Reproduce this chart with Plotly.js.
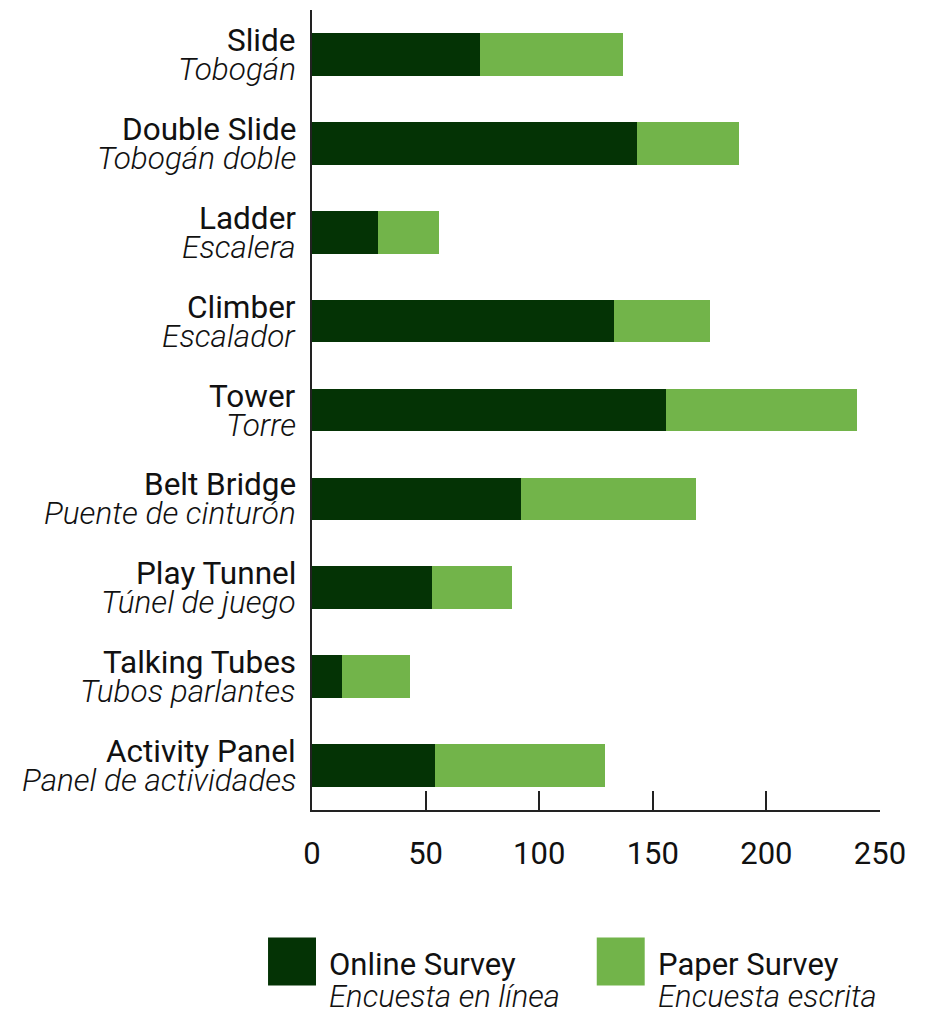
<!DOCTYPE html>
<html>
<head>
<meta charset="utf-8">
<script src="https://cdn.plot.ly/plotly-3.0.1.min.js"></script>
<style>
  html, body { margin: 0; padding: 0; background: #ffffff; }
  #chart { width: 926px; height: 1015px; }
</style>
</head>
<body>
<div id="chart"></div>
<script>
const categoriesEn = ["Slide", "Double Slide", "Ladder", "Climber", "Tower", "Belt Bridge", "Play Tunnel", "Talking Tubes", "Activity Panel"];
const categoriesEs = ["Tobogán", "Tobogán doble", "Escalera", "Escalador", "Torre", "Puente de cinturón", "Túnel de juego", "Tubos parlantes", "Panel de actividades"];
const onlineValues = [74, 143, 29, 133, 156, 92, 53, 13, 54];
const paperValues = [63, 45, 27, 42, 84, 77, 35, 30, 75];
const seriesNamesEn = ["Online Survey", "Paper Survey"];
const seriesNamesEs = ["Encuesta en línea", "Encuesta escrita"];
const xTickValues = [0, 50, 100, 150, 200, 250];

const darkGreen = "#043305";
const lightGreen = "#72b44a";
const textColor = "#111111";
const fontFamily = "Roboto, 'Noto Sans', 'DejaVu Sans', sans-serif";
const labelSize = 31.5;
const legendSize = 31;

const traces = [
  { type: "bar", orientation: "h", name: seriesNamesEn[0], y: categoriesEn, x: onlineValues,
    marker: { color: darkGreen, line: { width: 0 } }, showlegend: false },
  { type: "bar", orientation: "h", name: seriesNamesEn[1], y: categoriesEn, x: paperValues,
    marker: { color: lightGreen, line: { width: 0 } }, showlegend: false }
];

// plot area: left 312, right 880.5, top 10, bottom 810.5
const L = 312, R = 45.5, T = 10, B = 204.5;
const W = 926, H = 1015;
const pw = W - L - R, ph = H - T - B;
const px = p => (p - L) / pw;
const py = p => (H - B - p) / ph;

const annotations = [];
// two-line category labels placed on each category of the y axis
categoriesEn.forEach((c, i) => {
  annotations.push({
    xref: "paper", yref: "y", x: 0, y: c, xanchor: "right", yanchor: "middle",
    xshift: -16, yshift: 14, borderpad: 0, borderwidth: 0, showarrow: false, text: c,
    font: { family: fontFamily, size: labelSize, color: textColor }
  });
  annotations.push({
    xref: "paper", yref: "y", x: 0, y: c, xanchor: "right", yanchor: "middle",
    xshift: -16, yshift: -15, borderpad: 0, borderwidth: 0, showarrow: false,
    text: "<i>" + categoriesEs[i] + "</i>",
    font: { family: fontFamily, size: labelSize, color: textColor, weight: 300, style: "italic" }
  });
});

// custom legend
const legendColors = [darkGreen, lightGreen];
const legendLeft = [268, 597];
const shapes = legendLeft.map((x, i) => ({
  type: "rect", xref: "paper", yref: "paper",
  x0: px(x), x1: px(x + 48), y0: py(986), y1: py(938),
  fillcolor: legendColors[i], line: { width: 0 }
}));
legendLeft.forEach((x, i) => {
  annotations.push({
    xref: "paper", yref: "paper", x: px(x + 61), y: py(965),
    xanchor: "left", yanchor: "middle", borderpad: 0, borderwidth: 0, showarrow: false,
    text: seriesNamesEn[i],
    font: { family: fontFamily, size: legendSize, color: textColor }
  });
  annotations.push({
    xref: "paper", yref: "paper", x: px(x + 61), y: py(997),
    xanchor: "left", yanchor: "middle", borderpad: 0, borderwidth: 0, showarrow: false,
    text: "<i>" + seriesNamesEs[i] + "</i>",
    font: { family: fontFamily, size: legendSize, color: textColor, weight: 300, style: "italic" }
  });
});

const layout = {
  width: W, height: H,
  margin: { l: L, r: R, t: T, b: B, pad: 0 },
  paper_bgcolor: "#ffffff", plot_bgcolor: "#ffffff",
  barmode: "stack", bargap: 0.52,
  showlegend: false,
  font: { family: fontFamily, color: textColor },
  xaxis: {
    range: [0, 250], tickvals: xTickValues, ticktext: xTickValues.map(String),
    showgrid: false, zeroline: false,
    showline: true, linecolor: "#222222", linewidth: 2,
    ticks: "inside", ticklen: 19, tickwidth: 2, tickcolor: "#222222",
    ticklabelstandoff: 15,
    tickfont: { family: fontFamily, size: 31, color: textColor },
    fixedrange: true
  },
  yaxis: {
    type: "category", range: [8.5, -0.5],
    tickvals: categoriesEn, showticklabels: false,
    showgrid: false, zeroline: false,
    showline: true, linecolor: "#222222", linewidth: 2,
    ticks: "",
    fixedrange: true
  },
  shapes: shapes,
  annotations: annotations
};

Plotly.newPlot("chart", traces, layout, { displayModeBar: false, staticPlot: true });
</script>
</body>
</html>
